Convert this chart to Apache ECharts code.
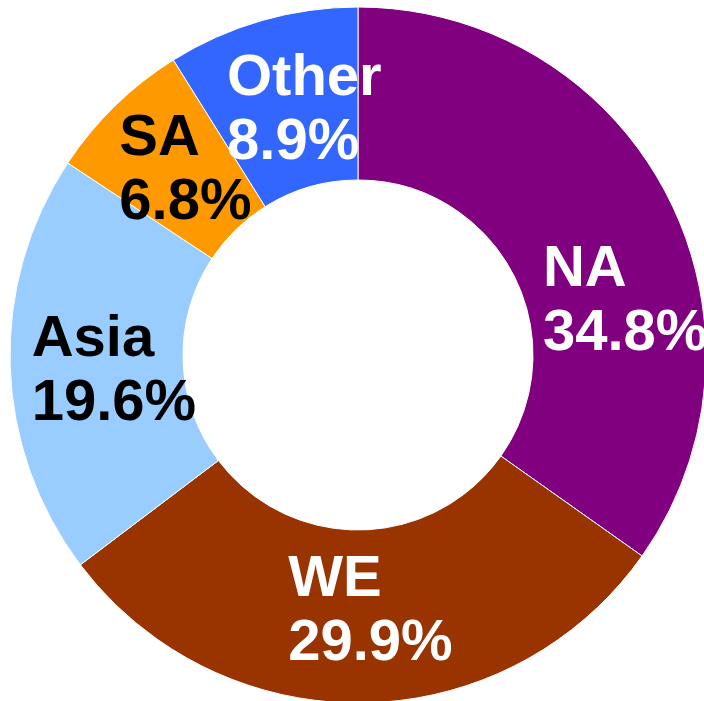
<!DOCTYPE html>
<html>
<head>
<meta charset="utf-8">
<script src="https://cdn.jsdelivr.net/npm/echarts@6/dist/echarts.min.js"></script>
<style>
  html, body { margin: 0; padding: 0; background: #fff; }
  #chart { width: 704px; height: 701px; }
</style>
</head>
<body>
<div id="chart"></div>
<script>
const regions = ['NA', 'WE', 'Asia', 'SA', 'Other'];
const shares = [34.8, 29.9, 19.6, 6.8, 8.9];

// slice look, in the same order as regions
const sliceColors = ['#800080', '#993300', '#99CCFF', '#FF9900', '#3366FF'];
const labelColors = ['#ffffff', '#ffffff', '#000000', '#000000', '#ffffff'];
// nudge of each label's left edge / middle away from the slice's mid point
const labelShift = [[-50, 69], [-74, -7], [-62, 9], [-54, 5], [-58, 10]];

const chart = echarts.init(document.getElementById('chart'));

chart.setOption({
  animation: false,
  series: [{
    type: 'pie',
    center: [358, 355],
    radius: [175, 348],
    startAngle: 90,
    clockwise: true,
    percentPrecision: 1,
    avoidLabelOverlap: false,
    minShowLabelAngle: 0,
    itemStyle: {
      borderColor: '#ffffff',
      borderWidth: 1
    },
    label: {
      show: true,
      position: 'inside',
      formatter: '{b}\n{d}%',
      fontFamily: 'Liberation Sans, Arial, sans-serif',
      fontWeight: 'bold',
      fontSize: 58,
      lineHeight: 64
    },
    labelLayout: function (p) {
      const s = labelShift[p.dataIndex];
      return {
        dx: s[0],
        dy: s[1],
        align: 'left',
        hideOverlap: false
      };
    },
    labelLine: { show: false },
    emphasis: { disabled: true },
    data: regions.map((name, i) => ({
      name: name,
      value: shares[i],
      itemStyle: { color: sliceColors[i] },
      label: { color: labelColors[i] }
    }))
  }]
});
</script>
</body>
</html>
